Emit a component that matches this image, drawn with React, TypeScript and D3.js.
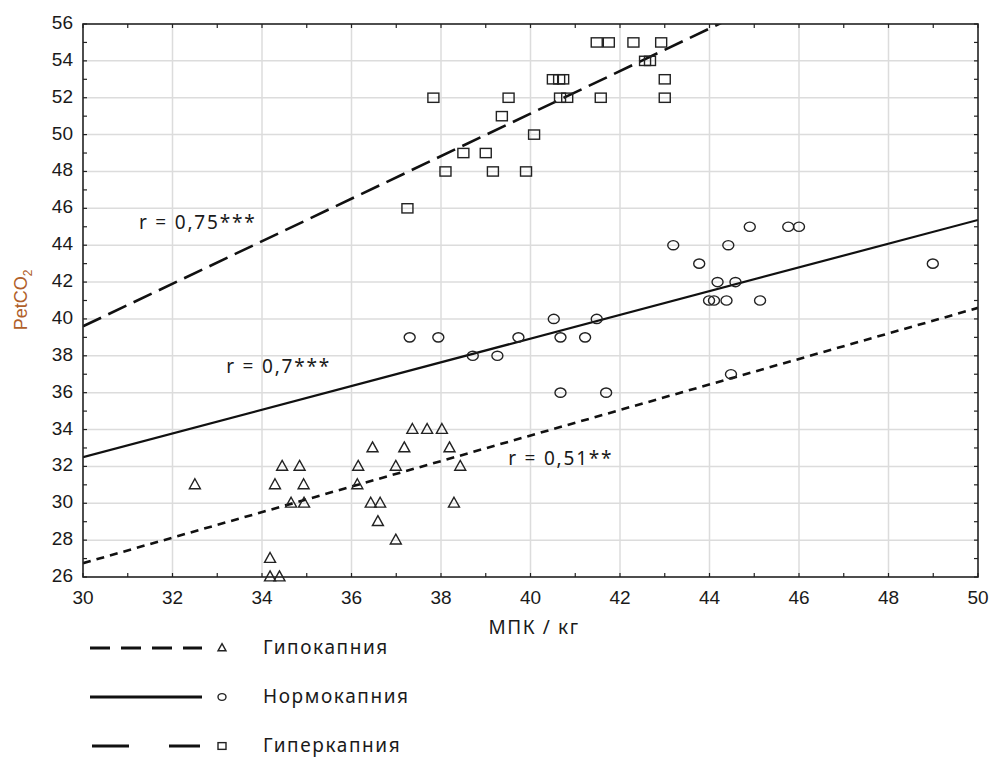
import React from "react";
import * as d3 from "d3";

// точки
const hypoX = [32.5, 34.18, 34.18, 34.39, 34.29, 34.45, 34.65, 34.84, 34.93, 34.94, 36.15, 36.13, 36.47, 36.43, 36.64, 36.59, 36.99, 36.99, 37.18, 37.36, 37.69, 38.02, 38.19, 38.43, 38.29];
const hypoY = [31, 27, 26, 26, 31, 32, 30, 32, 31, 30, 32, 31, 33, 30, 30, 29, 32, 28, 33, 34, 34, 34, 33, 32, 30];

const normoX = [37.3, 37.94, 38.71, 39.26, 39.73, 40.52, 40.67, 41.22, 41.48, 40.67, 41.69, 43.19, 43.77, 44.42, 44.9, 45.76, 46.0, 44.18, 44.58, 43.99, 44.1, 44.38, 45.13, 48.99, 44.48];
const normoY = [39, 39, 38, 38, 39, 40, 39, 39, 40, 36, 36, 44, 43, 44, 45, 45, 45, 42, 42, 41, 41, 41, 41, 43, 37];

const hyperX = [37.25, 38.1, 39.16, 39.9, 38.5, 39.0, 40.08, 39.36, 37.83, 39.51, 40.66, 40.82, 41.57, 43.0, 40.5, 40.64, 40.73, 43.0, 42.56, 42.67, 41.48, 41.75, 42.3, 42.92];
const hyperY = [46, 48, 48, 48, 49, 49, 50, 51, 52, 52, 52, 52, 52, 52, 53, 53, 53, 53, 54, 54, 55, 55, 55, 55];

// линии регрессии: значение Y при x = 30 и x = 50
const fitAt30 = [26.75, 32.5, 39.6];
const fitAt50 = [40.6, 45.37, 62.68];
const rLabels = ["r = 0,51**", "r = 0,7***", "r = 0,75***"];
const rLabelPos = [[39.5, 32.1], [33.2, 37.05], [31.25, 44.9]]; // [x, y] в единицах осей

const groupNames = ["Гипокапния", "Нормокапния", "Гиперкапния"];
const xTicks = [30, 32, 34, 36, 38, 40, 42, 44, 46, 48, 50];
const yTicks = [26, 28, 30, 32, 34, 36, 38, 40, 42, 44, 46, 48, 50, 52, 54, 56];

const W = 992;
const H = 760;
const m = { left: 83, right: 978, top: 24, bottom: 577 };

const dashes = ["8 6", null, "20 8"];
const legendDashes = ["20 11", null, "37 40"];
const tickFont = "Liberation Sans, Arial, sans-serif";
const textFont = "'Noto Sans', 'Open Sans', sans-serif";

const marker = (kind: number, cx: number, cy: number, s: number, key: string) => {
  const st = { fill: "none", stroke: "#222", strokeWidth: 1.4 };
  if (kind === 0) {
    const p = d3.path();
    p.moveTo(cx, cy - s * 0.55);
    p.lineTo(cx + s * 0.5, cy + s * 0.35);
    p.lineTo(cx - s * 0.5, cy + s * 0.35);
    p.closePath();
    return <path key={key} d={p.toString()} {...st} />;
  }
  if (kind === 1) return <ellipse key={key} cx={cx} cy={cy} rx={s * 0.5} ry={s * 0.42} {...st} />;
  return <rect key={key} x={cx - s * 0.5} y={cy - s * 0.42} width={s} height={s * 0.84} {...st} />;
};

export default function App() {
  const x = d3.scaleLinear().domain([30, 50]).range([m.left, m.right]);
  const y = d3.scaleLinear().domain([26, 56]).range([m.bottom, m.top]);
  const groups = [
    { xs: hypoX, ys: hypoY },
    { xs: normoX, ys: normoY },
    { xs: hyperX, ys: hyperY },
  ];
  const line = d3.line<[number, number]>().x((d) => x(d[0])).y((d) => y(d[1]));
  const minorX = d3.range(30, 51, 1);
  const minorY = d3.range(26, 57, 1);

  return (
    <svg width={W} height={H} style={{ position: "absolute", left: 0, top: 0, background: "#fff" }}>
      <defs>
        <clipPath id="plot">
          <rect x={m.left} y={m.top} width={m.right - m.left} height={m.bottom - m.top} />
        </clipPath>
      </defs>
      {/* сетка */}
      {xTicks.slice(1, -1).map((t) => (
        <line key={"gx" + t} x1={x(t)} x2={x(t)} y1={m.top} y2={m.bottom} stroke="#dcdcdc" strokeWidth={1.5} />
      ))}
      {yTicks.slice(1, -1).map((t) => (
        <line key={"gy" + t} x1={m.left} x2={m.right} y1={y(t)} y2={y(t)} stroke="#dcdcdc" strokeWidth={1.5} />
      ))}
      {/* линии регрессии */}
      <g clipPath="url(#plot)">
        {fitAt30.map((v, i) => (
          <path
            key={"fit" + i}
            d={line([[30, v], [50, fitAt50[i]]]) || ""}
            fill="none"
            stroke="#111"
            strokeWidth={i === 1 ? 2.2 : 2.6}
            strokeDasharray={dashes[i] || undefined}
          />
        ))}
      </g>
      {/* точки */}
      {groups.map((g, gi) => g.xs.map((xv, j) => marker(gi, x(xv), y(g.ys[j]), 11, `m${gi}-${j}`)))}
      {/* рамка и деления */}
      <rect x={m.left} y={m.top} width={m.right - m.left} height={m.bottom - m.top} fill="none" stroke="#222" strokeWidth={1.6} />
      {minorX.map((t) => (
        <g key={"tx" + t} stroke="#222" strokeWidth={1.2}>
          <line x1={x(t)} x2={x(t)} y1={m.bottom} y2={m.bottom - 4} />
          <line x1={x(t)} x2={x(t)} y1={m.top} y2={m.top + 4} />
        </g>
      ))}
      {minorY.map((t) => (
        <g key={"ty" + t} stroke="#222" strokeWidth={1.2}>
          <line x1={m.left} x2={m.left + 4} y1={y(t)} y2={y(t)} />
          <line x1={m.right} x2={m.right - 4} y1={y(t)} y2={y(t)} />
        </g>
      ))}
      {xTicks.map((t) => (
        <text key={"lx" + t} x={x(t)} y={604} textAnchor="middle" fontFamily={tickFont} fontSize={19} fill="#1a1a1a">
          {t}
        </text>
      ))}
      {yTicks.map((t) => (
        <text key={"ly" + t} x={73} y={y(t) + 5} textAnchor="end" fontFamily={tickFont} fontSize={19} fill="#1a1a1a">
          {t}
        </text>
      ))}
      <text transform="translate(27,300) rotate(-90)" textAnchor="middle" fontFamily={tickFont} fontSize={18} fill="#b0602a">
        PetCO<tspan fontSize={12} dy={5}>2</tspan>
      </text>
      <text x={534} y={634} textAnchor="middle" fontFamily={textFont} fontSize={19} letterSpacing={1.6} fill="#1a1a1a">
        МПК / кг
      </text>
      {rLabels.map((t, i) => (
        <text key={"r" + i} x={x(rLabelPos[i][0])} y={y(rLabelPos[i][1])} fontFamily={textFont} fontSize={19} letterSpacing={1.8} fill="#1a1a1a">
          {t}
        </text>
      ))}
      {/* легенда */}
      {groupNames.map((name, i) => {
        const ly = 648 + i * 49;
        return (
          <g key={"leg" + i}>
            <line
              x1={i === 2 ? 92 : 90}
              x2={i === 2 ? 200 : 202}
              y1={ly}
              y2={ly}
              stroke="#111"
              strokeWidth={3}
              strokeDasharray={legendDashes[i] || undefined}
            />
            {marker(i, 222, ly, 8, "lm" + i)}
            <text x={263} y={ly + 6} fontFamily={textFont} fontSize={19} letterSpacing={1.6} fill="#1a1a1a">
              {name}
            </text>
          </g>
        );
      })}
    </svg>
  );
}
